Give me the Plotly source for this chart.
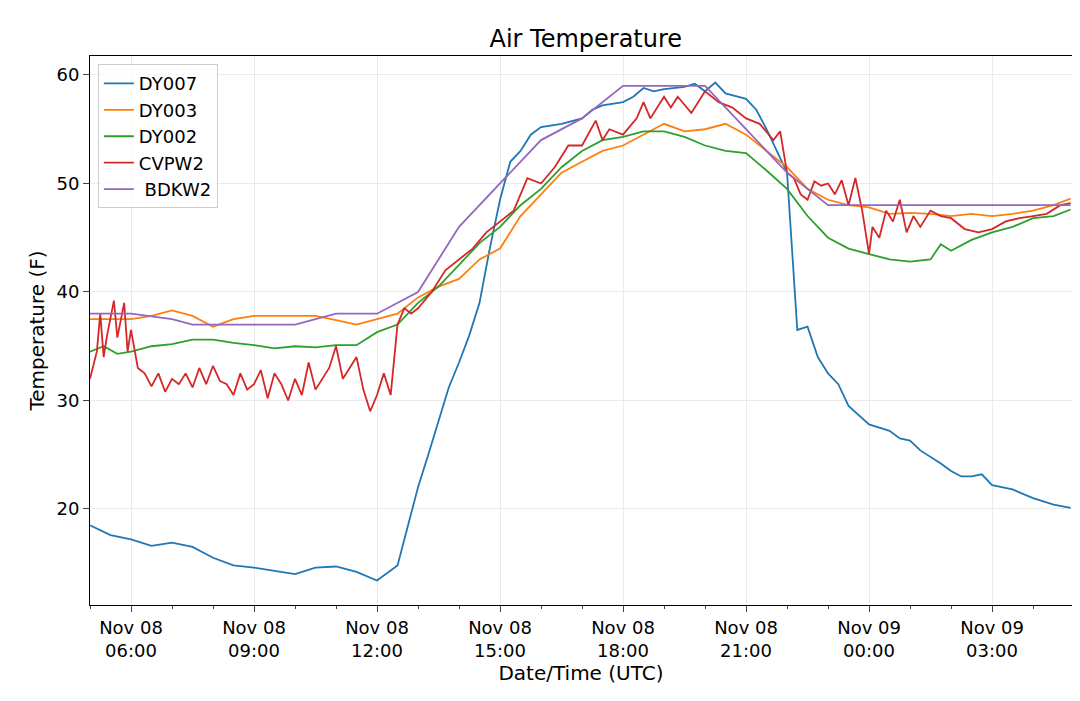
import plotly.graph_objects as go


def stamps(times):
    # hours 05-23 are Nov 08, 00-04 are Nov 09
    out = []
    for t in times:
        day = "08" if int(t[:2]) >= 5 else "09"
        out.append("2018-11-%s %s" % (day, t))
    return out


dy007_t = ["05:00", "05:30", "06:00", "06:30", "07:00", "07:30", "08:00", "08:30", "09:00", "09:30",
           "10:00", "10:30", "11:00", "11:30", "12:00", "12:30", "12:45", "13:00", "13:15", "13:30",
           "13:45", "14:00", "14:15", "14:30", "14:45", "15:00", "15:15", "15:30", "15:45", "16:00",
           "16:30", "17:00", "17:15", "17:30", "18:00", "18:15", "18:30", "18:45", "19:00", "19:30",
           "19:45", "20:00", "20:15", "20:30", "21:00", "21:15", "21:30", "21:45", "22:00", "22:15",
           "22:30", "22:45", "23:00", "23:15", "23:30", "00:00", "00:30", "00:45", "01:00", "01:15",
           "01:30", "01:45", "02:00", "02:15", "02:30", "02:45", "03:00", "03:30", "04:00", "04:15",
           "04:30", "04:55"]
dy007_v = [18.5, 17.6, 17.2, 16.6, 16.9, 16.5, 15.5, 14.8, 14.6, 14.3,
           14.0, 14.6, 14.7, 14.2, 13.4, 14.8, 18.5, 22, 25, 28,
           31.2, 33.5, 36, 39, 44, 48.5, 52, 53, 54.5, 55.2,
           55.5, 56.0, 56.8, 57.2, 57.5, 58, 58.8, 58.5, 58.7, 58.9,
           59.2, 58.5, 59.3, 58.3, 57.8, 56.8, 55, 53, 51, 36.5,
           36.8, 34, 32.5, 31.5, 29.5, 27.8, 27.2, 26.5, 26.3, 25.4,
           24.8, 24.2, 23.5, 23, 23, 23.2, 22.2, 21.8, 21, 20.7,
           20.4, 20.1]

dy003_t = ["05:00", "06:00", "06:30", "07:00", "07:30", "08:00", "08:30", "09:00", "10:00", "10:30",
           "11:00", "11:30", "12:00", "12:30", "13:00", "13:30", "14:00", "14:30", "15:00", "15:30",
           "16:00", "16:30", "17:00", "17:30", "18:00", "18:30", "19:00", "19:30", "20:00", "20:30",
           "21:00", "21:30", "22:00", "22:30", "23:00", "23:30", "00:00", "00:30", "01:00", "01:30",
           "02:00", "02:30", "03:00", "03:30", "04:00", "04:30", "04:55"]
dy003_v = [37.5, 37.5, 37.8, 38.3, 37.8, 36.8, 37.5, 37.8, 37.8, 37.8,
           37.4, 37, 37.5, 38.0, 39.5, 40.5, 41.2, 43, 44, 47,
           49, 51, 52, 53, 53.5, 54.5, 55.5, 54.8, 55, 55.5,
           54.5, 53, 51.5, 49.5, 48.5, 48, 47.8, 47.2, 47.3, 47.2,
           47, 47.2, 47, 47.2, 47.5, 48, 48.6]

dy002_t = ["05:00", "05:20", "05:40", "06:00", "06:30", "07:00", "07:30", "08:00", "08:30", "09:00",
           "09:30", "10:00", "10:30", "11:00", "11:30", "12:00", "12:30", "13:00", "13:30", "14:00",
           "14:30", "15:00", "15:30", "16:00", "16:30", "17:00", "17:30", "18:00", "18:30", "19:00",
           "19:30", "20:00", "20:30", "21:00", "21:30", "22:00", "22:30", "23:00", "23:30", "00:00",
           "00:30", "01:00", "01:30", "01:45", "02:00", "02:30", "03:00", "03:30", "04:00", "04:30",
           "04:55"]
dy002_v = [34.5, 35, 34.3, 34.5, 35, 35.2, 35.6, 35.6, 35.3, 35.1,
           34.8, 35, 34.9, 35.1, 35.1, 36.3, 37, 39, 40.5, 42.5,
           44.5, 46, 48, 49.5, 51.5, 53, 54, 54.3, 54.8, 54.8,
           54.3, 53.5, 53, 52.8, 51.2, 49.5, 47, 45, 44, 43.5,
           43, 42.8, 43, 44.4, 43.8, 44.8, 45.5, 46, 46.8, 47,
           47.6]

cvpw2_t = ["05:00", "05:10", "05:15", "05:20", "05:25", "05:35", "05:40", "05:50", "05:55", "06:00",
           "06:10", "06:20", "06:30", "06:40", "06:50", "07:00", "07:10", "07:20", "07:30", "07:40",
           "07:50", "08:00", "08:10", "08:20", "08:30", "08:40", "08:50", "09:00", "09:10", "09:20",
           "09:30", "09:40", "09:50", "10:00", "10:10", "10:20", "10:30", "10:40", "10:50", "11:00",
           "11:10", "11:20", "11:30", "11:40", "11:50", "12:00", "12:10", "12:20", "12:30", "12:40",
           "12:50", "13:00", "13:20", "13:40", "14:00", "14:20", "14:40", "15:00", "15:20", "15:40",
           "16:00", "16:20", "16:40", "17:00", "17:20", "17:30", "17:40", "18:00", "18:20", "18:30",
           "18:40", "19:00", "19:10", "19:20", "19:40", "20:00", "20:20", "20:40", "21:00", "21:20",
           "21:40", "21:50", "22:00", "22:10", "22:20", "22:30", "22:40", "22:50", "23:00", "23:10",
           "23:20", "23:30", "23:40", "23:50", "00:00", "00:05", "00:15", "00:25", "00:35", "00:45",
           "00:55", "01:05", "01:15", "01:30", "01:45", "02:00", "02:20", "02:40", "03:00", "03:20",
           "03:40", "04:00", "04:20", "04:40", "04:55"]
cvpw2_v = [32, 34.5, 38, 34, 36, 39.2, 35.8, 39, 34.5, 36.5,
           33, 32.5, 31.3, 32.5, 30.8, 32, 31.5, 32.5, 31.2, 33,
           31.5, 33.2, 31.8, 31.5, 30.5, 32.5, 31, 31.5, 32.8, 30.2,
           32.5, 31.5, 30, 32, 30.5, 33.5, 31, 32, 33, 35,
           32, 33, 34, 31, 29, 30.5, 32.5, 30.5, 37, 38.5,
           38, 38.5, 40, 42, 43, 44, 45.5, 46.5, 47.5, 50.5,
           50, 51.5, 53.5, 53.5, 55.8, 54, 55, 54.5, 56, 57.5,
           56, 58, 57, 58, 56.5, 58.5, 57.5, 57, 56, 55.5,
           54, 54.8, 51, 50.5, 49, 48.5, 50.2, 49.8, 50, 49,
           50.3, 48, 50.5, 47.5, 43.5, 46, 45, 47.5, 46.5, 48.5,
           45.5, 47, 46, 47.5, 47, 46.8, 45.8, 45.5, 45.8, 46.5,
           46.8, 47, 47.2, 48, 48.2]

bdkw2_t = ["05:00", "06:00", "07:00", "07:30", "08:00", "09:00", "10:00", "11:00", "12:00", "13:00",
           "14:00", "15:00", "16:00", "17:00", "18:00", "19:00", "20:00", "21:00", "22:00", "23:00",
           "00:00", "01:00", "02:00", "03:00", "04:00", "04:55"]
bdkw2_v = [38, 38, 37.5, 37, 37, 37, 37, 38, 38, 40,
           46, 50, 54, 56, 59, 59, 59, 55, 51, 48,
           48, 48, 48, 48, 48, 48]

tick_vals = ["2018-11-08 06:00", "2018-11-08 09:00", "2018-11-08 12:00", "2018-11-08 15:00",
             "2018-11-08 18:00", "2018-11-08 21:00", "2018-11-09 00:00", "2018-11-09 03:00"]
tick_text = ["Nov 08<br>06:00", "Nov 08<br>09:00", "Nov 08<br>12:00", "Nov 08<br>15:00",
             "Nov 08<br>18:00", "Nov 08<br>21:00", "Nov 09<br>00:00", "Nov 09<br>03:00"]

series = [
    ("DY007", dy007_t, dy007_v, "#1f77b4"),
    ("DY003", dy003_t, dy003_v, "#ff7f0e"),
    ("DY002", dy002_t, dy002_v, "#2ca02c"),
    ("CVPW2", cvpw2_t, cvpw2_v, "#d62728"),
    (" BDKW2", bdkw2_t, bdkw2_v, "#9467bd"),
]

fig = go.Figure()
for name, t, v, c in series:
    fig.add_trace(go.Scatter(x=stamps(t), y=v, name=name, mode="lines",
                             line=dict(color=c, width=1.8)))

fig.update_layout(
    width=1080, height=701,
    paper_bgcolor="white", plot_bgcolor="white",
    font=dict(family="DejaVu Sans", size=18, color="black"),
    title=dict(text="Air Temperature", x=0.535, xanchor="center", y=0.945,
               yanchor="bottom", font=dict(size=24)),
    margin=dict(l=82, r=16, t=48, b=104),
    legend=dict(x=0.008, y=0.985, xanchor="left", yanchor="top",
                bordercolor="#cccccc", borderwidth=1, bgcolor="rgba(255,255,255,0.8)",
                font=dict(size=18)),
    xaxis=dict(
        range=["2018-11-08 05:00", "2018-11-09 04:57"], automargin=False,
        tickvals=tick_vals, ticktext=tick_text,
        showgrid=True, gridcolor="#ebebeb", ticks="outside", ticklen=6,
        showline=True, linecolor="black", mirror=True,
        minor=dict(dtick=3600000, ticks="outside", ticklen=3, showgrid=False),
        title=dict(text="Date/Time (UTC)", font=dict(size=20), standoff=4),
    ),
    yaxis=dict(
        range=[11.15, 61.75], tickvals=[20, 30, 40, 50, 60], automargin=False,
        showgrid=True, gridcolor="#ebebeb", ticks="outside", ticklen=6,
        showline=True, linecolor="black", mirror=True, zeroline=False,
        title=dict(text="Temperature (F)", font=dict(size=20), standoff=6),
    ),
)

fig.write_html("out.html")
